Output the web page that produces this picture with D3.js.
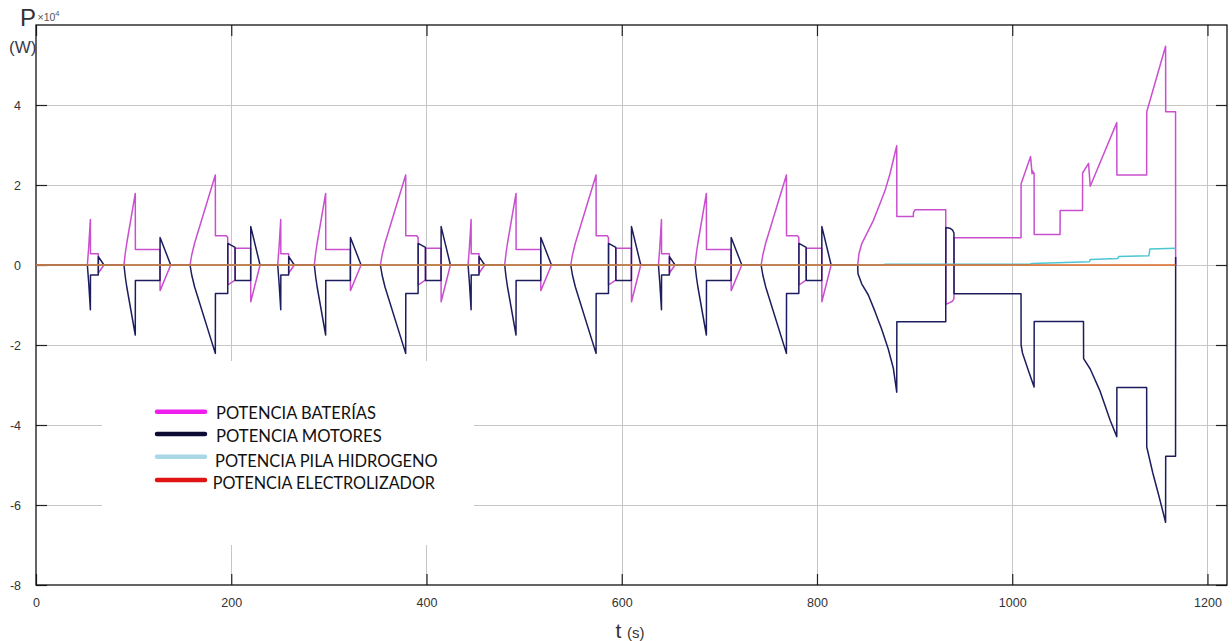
<!DOCTYPE html>
<html>
<head>
<meta charset="utf-8">
<script src="https://cdn.jsdelivr.net/npm/d3@7"></script>
<style>
  html, body { margin: 0; padding: 0; background: #fff; }
  svg { display: block; }
</style>
</head>
<body>
<svg id="chart" width="1232" height="641"></svg>
<script>
// Potencias del sistema durante el ciclo de conducción (P en W ×10^4, t en s)

const seriesNames = [
  "POTENCIA BATERÍAS",
  "POTENCIA MOTORES",
  "POTENCIA PILA HIDROGENO",
  "POTENCIA ELECTROLIZADOR"
];

const xTicks = [0, 200, 400, 600, 800, 1000, 1200];
const yTicks = [-8, -6, -4, -2, 0, 2, 4];

// Potencia de las baterías [t, P]
const bateriaPts = [
  [0, 0],
  // ciclo urbano 1
  [52.6,0],[54.0,0.45],[55.7,1.14],[55.8,0.28],[63.8,0.28],[63.9,-0.2],[69.6,0],
  [90.1,0],[91.5,0.3],[93.0,0.55],[101.7,1.79],[101.8,0.39],[127.0,0.39],[127.1,-0.64],[138.0,0],
  [157.8,0],[159.5,0.25],[162.5,0.55],[183.7,2.25],[183.8,0.73],[195.0,0.73],[196.4,0.69],[196.5,-0.5],[203.9,-0.38],[204.0,0.42],[219.9,0.42],[220.0,-0.92],[229.5,0],
  // ciclo urbano 2
  [247.6,0],[249.0,0.45],[250.7,1.14],[250.8,0.28],[258.8,0.28],[258.9,-0.2],[264.6,0],
  [285.1,0],[286.5,0.3],[288.0,0.55],[296.7,1.79],[296.8,0.39],[322.0,0.39],[322.1,-0.64],[333.0,0],
  [352.8,0],[354.5,0.25],[357.5,0.55],[378.7,2.25],[378.8,0.73],[390.0,0.73],[391.4,0.69],[391.5,-0.5],[398.9,-0.38],[399.0,0.42],[414.9,0.42],[415.0,-0.92],[424.5,0],
  // ciclo urbano 3
  [442.6,0],[444.0,0.45],[445.7,1.14],[445.8,0.28],[453.8,0.28],[453.9,-0.2],[459.6,0],
  [480.1,0],[481.5,0.3],[483.0,0.55],[491.7,1.79],[491.8,0.39],[517.0,0.39],[517.1,-0.64],[528.0,0],
  [547.8,0],[549.5,0.25],[552.5,0.55],[573.7,2.25],[573.8,0.73],[585.0,0.73],[586.4,0.69],[586.5,-0.5],[593.9,-0.38],[594.0,0.42],[609.9,0.42],[610.0,-0.92],[619.5,0],
  // ciclo urbano 4
  [637.6,0],[639.0,0.45],[640.7,1.14],[640.8,0.28],[648.8,0.28],[648.9,-0.2],[654.6,0],
  [675.1,0],[676.5,0.3],[678.0,0.55],[686.7,1.79],[686.8,0.39],[712.0,0.39],[712.1,-0.64],[723.0,0],
  [742.8,0],[744.5,0.25],[747.5,0.55],[768.7,2.25],[768.8,0.73],[780.0,0.73],[781.4,0.69],[781.5,-0.5],[788.9,-0.38],[789.0,0.42],[804.9,0.42],[805.0,-0.92],[814.5,0],
  // ciclo extraurbano
  [841.7,0],[843.0,0.28],[845.8,0.53],[850.9,0.78],[857.7,1.11],[864.5,1.53],[869.7,1.86],[874.8,2.28],[881.7,2.98],
  [881.8,1.21],[898.7,1.21],[898.8,1.31],[900.4,1.38],[931.9,1.38],
  [932.0,-0.98],[936.0,-0.94],[939.0,-0.9],[940.3,-0.84],[940.4,0.68],[1009.0,0.68],
  [1009.1,2.03],[1018.8,2.71],[1020.3,2.28],[1021.0,2.35],[1021.7,2.3],[1022.4,2.3],[1022.5,0.76],[1049.0,0.76],
  [1049.1,1.36],[1072.0,1.36],[1072.1,2.3],[1078.2,2.54],[1079.9,1.97],[1107.1,3.56],[1107.2,2.25],[1137.7,2.25],
  [1137.8,3.83],[1157.1,5.47],[1157.2,3.83],[1167.3,3.83],[1167.4,0]
];

// Potencia de los motores [t, P]
const motorPts = [
  [0, 0],
  // ciclo urbano 1
  [52.6,0],[54.0,-0.45],[55.7,-1.12],[55.8,-0.25],[63.8,-0.25],[63.9,0.21],[69.6,0],
  [90.1,0],[91.5,-0.3],[93.0,-0.55],[101.7,-1.75],[101.8,-0.39],[127.0,-0.39],[127.1,0.69],[138.0,0],
  [157.8,0],[159.5,-0.25],[162.5,-0.55],[183.7,-2.21],[183.8,-0.71],[196.4,-0.71],[196.5,0.54],[203.9,0.44],[204.0,-0.39],[219.9,-0.39],[220.0,0.96],[229.5,0],
  // ciclo urbano 2
  [247.6,0],[249.0,-0.45],[250.7,-1.12],[250.8,-0.25],[258.8,-0.25],[258.9,0.21],[264.6,0],
  [285.1,0],[286.5,-0.3],[288.0,-0.55],[296.7,-1.75],[296.8,-0.39],[322.0,-0.39],[322.1,0.69],[333.0,0],
  [352.8,0],[354.5,-0.25],[357.5,-0.55],[378.7,-2.21],[378.8,-0.71],[391.4,-0.71],[391.5,0.54],[398.9,0.44],[399.0,-0.39],[414.9,-0.39],[415.0,0.96],[424.5,0],
  // ciclo urbano 3
  [442.6,0],[444.0,-0.45],[445.7,-1.12],[445.8,-0.25],[453.8,-0.25],[453.9,0.21],[459.6,0],
  [480.1,0],[481.5,-0.3],[483.0,-0.55],[491.7,-1.75],[491.8,-0.39],[517.0,-0.39],[517.1,0.69],[528.0,0],
  [547.8,0],[549.5,-0.25],[552.5,-0.55],[573.7,-2.21],[573.8,-0.71],[586.4,-0.71],[586.5,0.54],[593.9,0.44],[594.0,-0.39],[609.9,-0.39],[610.0,0.96],[619.5,0],
  // ciclo urbano 4
  [637.6,0],[639.0,-0.45],[640.7,-1.12],[640.8,-0.25],[648.8,-0.25],[648.9,0.21],[654.6,0],
  [675.1,0],[676.5,-0.3],[678.0,-0.55],[686.7,-1.75],[686.8,-0.39],[712.0,-0.39],[712.1,0.69],[723.0,0],
  [742.8,0],[744.5,-0.25],[747.5,-0.55],[768.7,-2.21],[768.8,-0.71],[781.4,-0.71],[781.5,0.54],[788.9,0.44],[789.0,-0.39],[804.9,-0.39],[805.0,0.96],[814.5,0],
  // ciclo extraurbano
  [841.7,0],[842.0,-0.22],[845.8,-0.47],[852.6,-0.75],[859.4,-1.16],[866.2,-1.6],[873.0,-2.1],[878.2,-2.58],[881.7,-3.18],
  [881.8,-1.42],[931.9,-1.42],[932.0,0.94],[936.0,0.92],[939.0,0.87],[940.3,0.8],[940.4,-0.72],[1009.0,-0.72],
  [1009.1,-2.0],[1010.5,-2.2],[1016.0,-2.6],[1022.4,-3.05],[1022.5,-1.41],[1073.0,-1.41],
  [1073.1,-2.34],[1079.9,-2.6],[1090.1,-3.16],[1100.3,-3.88],[1107.1,-4.29],[1107.2,-3.06],[1137.7,-3.06],
  [1137.8,-4.55],[1144.0,-5.2],[1150.0,-5.75],[1157.1,-6.43],[1157.2,-4.78],[1167.3,-4.78],[1167.4,0.2]
];

// Potencia de la pila de hidrógeno [t, P]
const pilaPts = [
  [0,0],[869,0],[869.5,0.02],[1018,0.02],[1020.5,0.04],[1079,0.08],[1080,0.14],
  [1108,0.16],[1109,0.21],[1140,0.23],[1141,0.4],[1167.3,0.42]
];

// Potencia del electrolizador [t, P]
const electrolizadorPts = [[0,0],[1167.4,0]];

const svg = d3.select("#chart");
const W = 1232, H = 641;
const plot = { left: 36, right: 1227, top: 25, bottom: 585 };

const x = d3.scaleLinear().domain([0, 1220]).range([plot.left, plot.right]);
const y = d3.scaleLinear().domain([-8, 6]).range([plot.bottom, plot.top]);

svg.append("rect").attr("width", W).attr("height", H).attr("fill", "#fff");

// rejilla
const grid = svg.append("g").attr("stroke", "#c6c6c6").attr("stroke-width", 1);
grid.selectAll("line.gx").data(xTicks.filter(d => d > 0)).join("line")
  .attr("x1", d => Math.round(x(d)) + 0.5).attr("x2", d => Math.round(x(d)) + 0.5)
  .attr("y1", plot.top).attr("y2", plot.bottom);
grid.selectAll("line.gy").data(yTicks.filter(d => d > -8)).join("line")
  .attr("y1", d => Math.round(y(d)) + 0.5).attr("y2", d => Math.round(y(d)) + 0.5)
  .attr("x1", plot.left).attr("x2", plot.right);

// fondo blanco de la leyenda
svg.append("rect")
  .attr("x", 102).attr("y", 361).attr("width", 372).attr("height", 184)
  .attr("fill", "#fff");

// ejes con marcas hacia dentro
const tickFont = "'Liberation Sans', Arial, sans-serif";
const tickLen = 11;
const fmt = d => String(d);

const axB = svg.append("g").attr("transform", `translate(0,${plot.bottom})`)
  .call(d3.axisBottom(x).tickValues(xTicks).tickSizeInner(-tickLen).tickSizeOuter(0).tickPadding(13).tickFormat(fmt));
const axL = svg.append("g").attr("transform", `translate(${plot.left},0)`)
  .call(d3.axisLeft(y).tickValues(yTicks).tickSizeInner(-tickLen).tickSizeOuter(0).tickPadding(15).tickFormat(fmt));
const axT = svg.append("g").attr("transform", `translate(0,${plot.top})`)
  .call(d3.axisTop(x).tickValues(xTicks).tickSizeInner(-tickLen).tickSizeOuter(0).tickFormat(""));
const axR = svg.append("g").attr("transform", `translate(${plot.right},0)`)
  .call(d3.axisRight(y).tickValues(yTicks).tickSizeInner(-tickLen).tickSizeOuter(0).tickFormat(""));

[axB, axL, axT, axR].forEach(a => {
  a.select(".domain").remove();
  a.selectAll(".tick line").attr("stroke", "#222").attr("stroke-width", 1.2);
  a.selectAll(".tick text").attr("fill", "#333").style("font-family", tickFont).style("font-size", "12.5px");
});

// marco
svg.append("rect")
  .attr("x", plot.left).attr("y", plot.top)
  .attr("width", plot.right - plot.left).attr("height", plot.bottom - plot.top)
  .attr("fill", "none").attr("stroke", "#111").attr("stroke-width", 1.3);

// curvas
const line = d3.line().x(d => x(d[0])).y(d => y(d[1]));
const curves = [
  { pts: bateriaPts, color: "#c94fcf" },
  { pts: motorPts, color: "#1d1d5e" },
  { pts: pilaPts, color: "#4cc6d2" },
  { pts: electrolizadorPts, color: "#dd6a2a" }
];
svg.append("g").selectAll("path").data(curves).join("path")
  .attr("d", d => line(d.pts))
  .attr("fill", "none")
  .attr("stroke", d => d.color)
  .attr("stroke-width", 1.5)
  .attr("stroke-linejoin", "round");

// leyenda
const legendColors = ["#ee1fee", "#0b0b33", "#a8d8e6", "#e01414"];
const legendRows = [
  { ly: 411.7, tx: 216, ty: 419.3, w: 160 },
  { ly: 434, tx: 216, ty: 442, w: 165.7 },
  { ly: 456.7, tx: 215, ty: 466.7, w: 222.7 },
  { ly: 480, tx: 212.7, ty: 489, w: 222.3 }
];
const leg = svg.append("g");
legendRows.forEach((r, i) => {
  leg.append("line")
    .attr("x1", 157).attr("x2", 205).attr("y1", r.ly).attr("y2", r.ly)
    .attr("stroke", legendColors[i]).attr("stroke-width", 4.5).attr("stroke-linecap", "round");
  leg.append("text")
    .attr("x", r.tx).attr("y", r.ty)
    .attr("textLength", r.w).attr("lengthAdjust", "spacingAndGlyphs")
    .style("font-family", "Lato, 'Open Sans', sans-serif").style("font-size", "17px")
    .attr("fill", "#111")
    .text(seriesNames[i]);
});

// etiqueta del eje y
svg.append("text").attr("x", 20).attr("y", 26)
  .style("font-family", "'Liberation Sans Narrow', 'Liberation Sans', sans-serif").style("font-size", "24px")
  .attr("fill", "#333").text("P");
const mult = svg.append("text").attr("x", 37.5).attr("y", 20.7)
  .style("font-family", "'Liberation Sans', sans-serif").style("font-size", "10.5px")
  .attr("fill", "#555");
mult.append("tspan").text("×10");
mult.append("tspan").attr("dy", -4.5).style("font-size", "7.5px").text("4");
svg.append("text").attr("x", 9).attr("y", 53)
  .style("font-family", "'Liberation Sans', sans-serif").style("font-size", "17px")
  .attr("fill", "#3a3a48").text("(W)");

// etiqueta del eje x
const xl = svg.append("text").attr("x", 630).attr("y", 638).attr("text-anchor", "middle")
  .attr("fill", "#333").style("font-family", "'Liberation Sans Narrow', 'Liberation Sans', sans-serif");
xl.append("tspan").style("font-size", "21px").text("t ");
xl.append("tspan").style("font-size", "15px").text("(s)");
</script>
</body>
</html>
